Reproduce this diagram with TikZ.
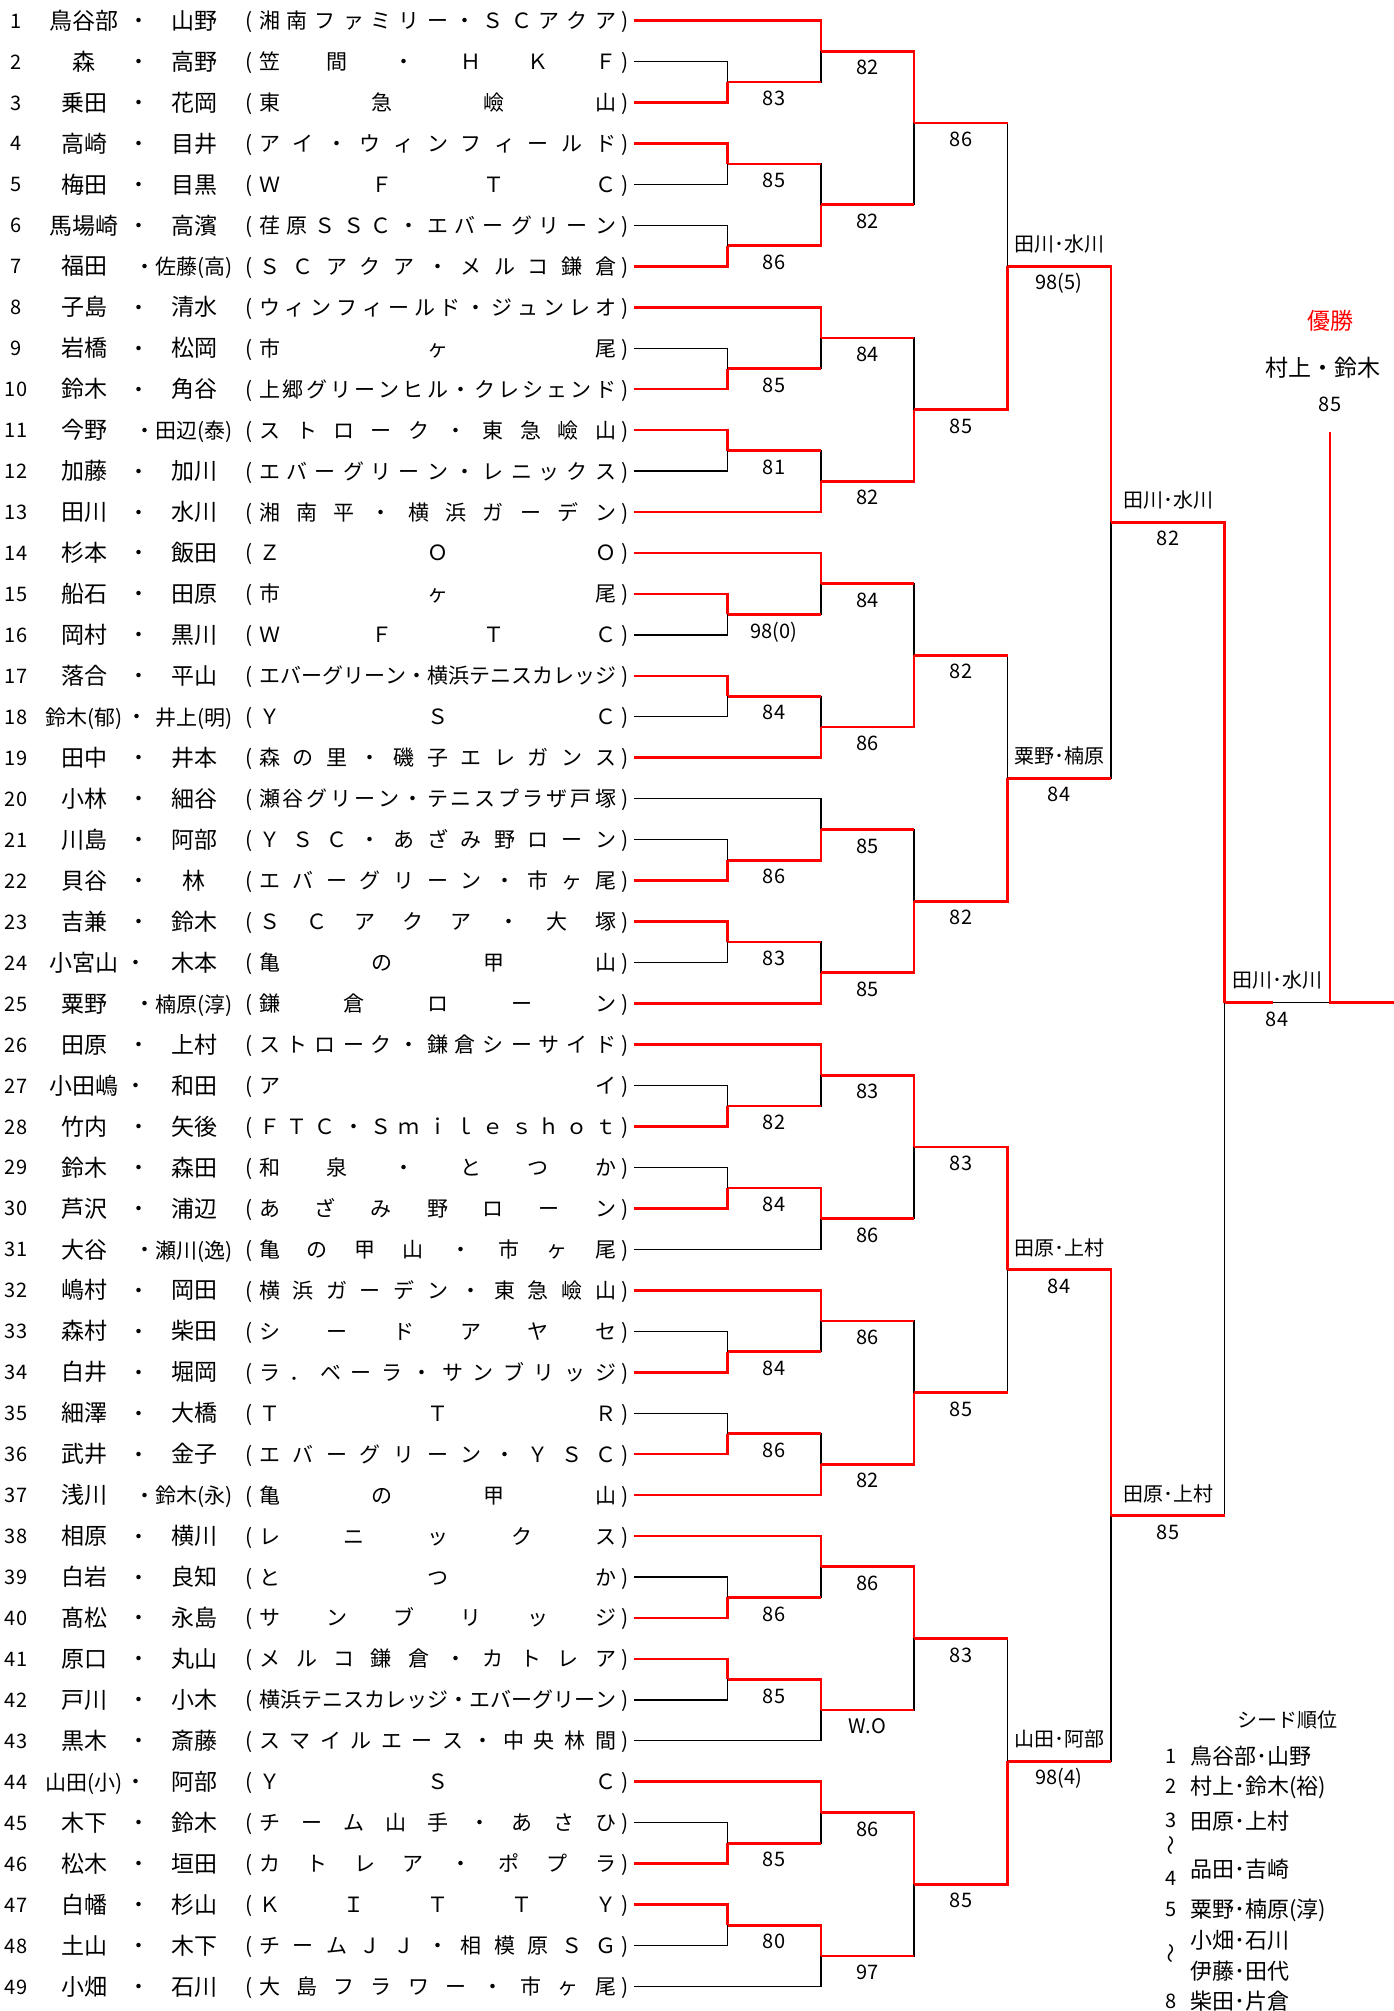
\documentclass[tikz,border=0pt]{standalone}
\usepackage{fontspec}
\setmainfont{Noto Sans CJK JP}
\usepackage{graphicx}
\def\spreadA#1{#1\spreadB}
\def\spreadB#1{\ifx\relax#1\else\hfil#1\expandafter\spreadB\fi}
\newcommand\spread[1]{\spreadA#1\relax}
\newcommand\sm[1]{{\fontsize{21}{21}\selectfont #1}}
\tikzset{
  win/.style={draw=red, line width=2.7pt, line cap=square},
  lose/.style={draw=black, line width=1.3pt, line cap=square},
  tx/.style={inner sep=0pt, outer sep=0pt},
  f19/.style={tx, font=\fontsize{19}{19}\selectfont, text height=16.7pt, text depth=2.3pt},
  f20/.style={tx, font=\fontsize{20}{20}\selectfont, text height=17.6pt, text depth=2.4pt},
  f21/.style={tx, font=\fontsize{21}{21}\selectfont, text height=18.5pt, text depth=2.5pt},
  f22/.style={tx, font=\fontsize{22}{22}\selectfont, text height=19.4pt, text depth=2.6pt},
  f23/.style={tx, font=\fontsize{23}{23}\selectfont, text height=20.2pt, text depth=2.8pt},
}
\newcommand\entry[5]{%
  \pgfmathsetmacro\yy{20.5+40.96*(#1-1)}
  \node[f20] (num#1) at (16,\yy) {#1};
  \node[f23] (pa#1) at (84,\yy) {#3};
  \node[f21] (dt#1) at (#2,\yy) {・};
  \node[f23] (pb#1) at (194,\yy) {#4};
  \node[f21] (lp#1) at (249,\yy) {(};
  \node[f21,anchor=west] (cl#1) at (259,\yy) {\makebox[357pt][s]{\spread{#5}}};
  \node[f21] (rp#1) at (625,\yy) {)};
  \coordinate (r#1) at (634,\yy);
}
\newcommand\match[8]{%
  \coordinate (#1) at (#2,#3);
  \draw[lose] (#5) -| (#1);
  \draw[#6] (#5) -- (#5 -| #1);
  \draw[win] (#4) -| (#1);
  \node[f20] (s#1) at (#7,#3+16) {#8};
}
\begin{document}
\begin{tikzpicture}[x=1pt,y=-1pt]
\fill[white] (0,0) rectangle (1394,2011);
\useasboundingbox (0,0) rectangle (1394,2011);

\entry{1}{139}{鳥谷部}{山野}{湘南ファミリー・ＳＣアクア}
\entry{2}{139}{森}{高野}{笠間・ＨＫＦ}
\entry{3}{139}{乗田}{花岡}{東急嶮山}
\entry{4}{139}{高崎}{目井}{アイ・ウィンフィールド}
\entry{5}{139}{梅田}{目黒}{ＷＦＴＣ}
\entry{6}{139}{馬場崎}{高濱}{荏原ＳＳＣ・エバーグリーン}
\entry{7}{145}{福田}{\sm{佐藤(高)}}{ＳＣアクア・メルコ鎌倉}
\entry{8}{139}{子島}{清水}{ウィンフィールド・ジュンレオ}
\entry{9}{139}{岩橋}{松岡}{市ヶ尾}
\entry{10}{139}{鈴木}{角谷}{上郷グリーンヒル・クレシェンド}
\entry{11}{145}{今野}{\sm{田辺(泰)}}{ストローク・東急嶮山}
\entry{12}{139}{加藤}{加川}{エバーグリーン・レニックス}
\entry{13}{139}{田川}{水川}{湘南平・横浜ガーデン}
\entry{14}{139}{杉本}{飯田}{ＺＯＯ}
\entry{15}{139}{船石}{田原}{市ヶ尾}
\entry{16}{139}{岡村}{黒川}{ＷＦＴＣ}
\entry{17}{139}{落合}{平山}{エバーグリーン・横浜テニスカレッジ}
\entry{18}{137}{\sm{鈴木(郁)}}{\sm{井上(明)}}{ＹＳＣ}
\entry{19}{139}{田中}{井本}{森の里・磯子エレガンス}
\entry{20}{139}{小林}{細谷}{瀬谷グリーン・テニスプラザ戸塚}
\entry{21}{139}{川島}{阿部}{ＹＳＣ・あざみ野ローン}
\entry{22}{139}{貝谷}{林}{エバーグリーン・市ヶ尾}
\entry{23}{139}{吉兼}{鈴木}{ＳＣアクア・大塚}
\entry{24}{136}{小宮山}{木本}{亀の甲山}
\entry{25}{145}{粟野}{\sm{楠原(淳)}}{鎌倉ローン}
\entry{26}{139}{田原}{上村}{ストローク・鎌倉シーサイド}
\entry{27}{136}{小田嶋}{和田}{アイ}
\entry{28}{139}{竹内}{矢後}{ＦＴＣ・Ｓｍｉｌｅｓｈｏｔ}
\entry{29}{139}{鈴木}{森田}{和泉・とつか}
\entry{30}{139}{芦沢}{浦辺}{あざみ野ローン}
\entry{31}{145}{大谷}{\sm{瀬川(逸)}}{亀の甲山・市ヶ尾}
\entry{32}{139}{嶋村}{岡田}{横浜ガーデン・東急嶮山}
\entry{33}{139}{森村}{柴田}{シードアヤセ}
\entry{34}{139}{白井}{堀岡}{ラ．ベーラ・サンブリッジ}
\entry{35}{139}{細澤}{大橋}{ＴＴＲ}
\entry{36}{139}{武井}{金子}{エバーグリーン・ＹＳＣ}
\entry{37}{145}{浅川}{\sm{鈴木(永)}}{亀の甲山}
\entry{38}{139}{相原}{横川}{レニックス}
\entry{39}{139}{白岩}{良知}{とつか}
\entry{40}{139}{髙松}{永島}{サンブリッジ}
\entry{41}{139}{原口}{丸山}{メルコ鎌倉・カトレア}
\entry{42}{139}{戸川}{小木}{横浜テニスカレッジ・エバーグリーン}
\entry{43}{139}{黒木}{斎藤}{スマイルエース・中央林間}
\entry{44}{136}{\sm{山田(小)}}{阿部}{ＹＳＣ}
\entry{45}{139}{木下}{鈴木}{チーム山手・あさひ}
\entry{46}{139}{松木}{垣田}{カトレア・ポプラ}
\entry{47}{139}{白幡}{杉山}{ＫＩＴＴＹ}
\entry{48}{139}{土山}{木下}{チームＪＪ・相模原ＳＧ}
\entry{49}{139}{小畑}{石川}{大島フラワー・市ヶ尾}

% round 1
\match{a1}{727.5}{81.94}{r3}{r2}{lose}{774}{83}
\match{a2}{727.5}{163.86}{r4}{r5}{lose}{774}{85}
\match{a3}{727.5}{245.78}{r7}{r6}{lose}{774}{86}
\match{a4}{727.5}{368.66}{r10}{r9}{lose}{774}{85}
\match{a5}{727.5}{450.58}{r11}{r12}{lose}{774}{81}
\match{a6}{727.5}{614.42}{r15}{r16}{lose}{774}{98(0)}
\match{a7}{727.5}{696.34}{r17}{r18}{lose}{774}{84}
\match{a8}{727.5}{860.18}{r22}{r21}{lose}{774}{86}
\match{a9}{727.5}{942.10}{r23}{r24}{lose}{774}{83}
\match{a10}{727.5}{1105.94}{r28}{r27}{lose}{774}{82}
\match{a11}{727.5}{1187.86}{r30}{r29}{lose}{774}{84}
\match{a12}{727.5}{1351.70}{r34}{r33}{lose}{774}{84}
\match{a13}{727.5}{1433.62}{r36}{r35}{lose}{774}{86}
\match{a14}{727.5}{1597.46}{r40}{r39}{lose}{774}{86}
\match{a15}{727.5}{1679.38}{r41}{r42}{lose}{774}{85}
\match{a16}{727.5}{1843.22}{r46}{r45}{lose}{774}{85}
\match{a17}{727.5}{1925.14}{r47}{r48}{lose}{774}{80}
% round 2
\match{b1}{821}{51.22}{r1}{a1}{win}{867.5}{82}
\match{b2}{821}{204.82}{a3}{a2}{win}{867.5}{82}
\match{b3}{821}{337.94}{r8}{a4}{win}{867.5}{84}
\match{b4}{821}{481.30}{r13}{a5}{win}{867.5}{82}
\match{b5}{821}{583.70}{r14}{a6}{win}{867.5}{84}
\match{b6}{821}{727.06}{r19}{a7}{win}{867.5}{86}
\match{b7}{821}{829.46}{a8}{r20}{lose}{867.5}{85}
\match{b8}{821}{972.82}{r25}{a9}{win}{867.5}{85}
\match{b9}{821}{1075.22}{r26}{a10}{win}{867.5}{83}
\match{b10}{821}{1218.58}{a11}{r31}{lose}{867.5}{86}
\match{b11}{821}{1320.98}{r32}{a12}{win}{867.5}{86}
\match{b12}{821}{1464.34}{r37}{a13}{win}{867.5}{82}
\match{b13}{821}{1566.74}{r38}{a14}{win}{867.5}{86}
\match{b14}{821}{1710.10}{a15}{r43}{lose}{867.5}{W.O}
\match{b15}{821}{1812.50}{r44}{a16}{win}{867.5}{86}
\match{b16}{821}{1955.86}{a17}{r49}{lose}{867.5}{97}
% round 3
\match{c1}{914}{123}{b1}{b2}{win}{961}{86}
\match{c2}{914}{409.62}{b4}{b3}{win}{961}{85}
\match{c3}{914}{655.38}{b6}{b5}{win}{961}{82}
\match{c4}{914}{901.14}{b8}{b7}{win}{961}{82}
\match{c5}{914}{1146.90}{b9}{b10}{win}{961}{83}
\match{c6}{914}{1392.66}{b12}{b11}{win}{961}{85}
\match{c7}{914}{1638.42}{b13}{b14}{win}{961}{83}
\match{c8}{914}{1884.18}{b15}{b16}{win}{961}{85}
% round 4
\match{d1}{1007.5}{266.3}{c2}{c1}{win}{1059}{98(5)}
\match{d2}{1007.5}{778.26}{c4}{c3}{win}{1059}{84}
\match{d3}{1007.5}{1269.78}{c5}{c6}{win}{1059}{84}
\match{d4}{1007.5}{1761.30}{c8}{c7}{win}{1059}{98(4)}
\node[f20] (nd1) at (1059,244.3) {田川･水川};
\node[f20] (nd2) at (1059,756.3) {粟野･楠原};
\node[f20] (nd3) at (1059,1247.8) {田原･上村};
\node[f20] (nd4) at (1059,1739.3) {山田･阿部};
% round 5
\match{e1}{1111}{522.28}{d1}{d2}{win}{1168}{82}
\match{e2}{1111}{1515.54}{d3}{d4}{win}{1168}{85}
\node[f20] (ne1) at (1168,500.3) {田川･水川};
\node[f20] (ne2) at (1168,1493.5) {田原･上村};
% round 6
\match{f1}{1224.5}{1002.5}{e1}{e2}{win}{1277}{84}
\node[f20] (nf1) at (1277,979.5) {田川･水川};
% final
\coordinate (fm) at (1273,1002.5);
\coordinate (fc) at (1330,1002.5);
\coordinate (fe) at (1394,1002.5);
\coordinate (ct) at (1330,432);
\draw[lose] (f1) -- (fc);
\draw[win] (f1) -- (fm);
\draw[win] (fe) -- (fc) -- (ct);
\node[f23, text=red] (yusho) at (1330,321) {優勝};
\node[f23] (champ) at (1323,368) {村上・鈴木};
\node[f20] (champsc) at (1330,404) {85};

% seed legend
\node[f20] (sdtitle) at (1287,1720) {シード順位};
\node[f20] (sn1) at (1171,1756) {1};
\node[f22,anchor=west] (sd1) at (1190,1756) {鳥谷部･山野};
\node[f20] (sn2) at (1171,1786) {2};
\node[f22,anchor=west] (sd2) at (1190,1786) {村上･鈴木(裕)};
\node[f20] (sn3) at (1171,1820) {3};
\node[f22,anchor=west] (sd3) at (1190,1821) {田原･上村};
\node[f20,rotate=90] (sw1) at (1171,1845) {～};
\node[f20] (sn4) at (1171,1878) {4};
\node[f22,anchor=west] (sd4) at (1190,1869) {品田･吉崎};
\node[f20] (sn5) at (1171,1909) {5};
\node[f22,anchor=west] (sd5) at (1190,1909) {粟野･楠原(淳)};
\node[f22,anchor=west] (sd6) at (1190,1940) {小畑･石川};
\node[f20,rotate=90] (sw2) at (1171,1953) {～};
\node[f22,anchor=west] (sd7) at (1190,1971) {伊藤･田代};
\node[f20] (sn8) at (1171,2001) {8};
\node[f22,anchor=west] (sd8) at (1190,2001) {柴田･片倉};
\end{tikzpicture}
\end{document}
